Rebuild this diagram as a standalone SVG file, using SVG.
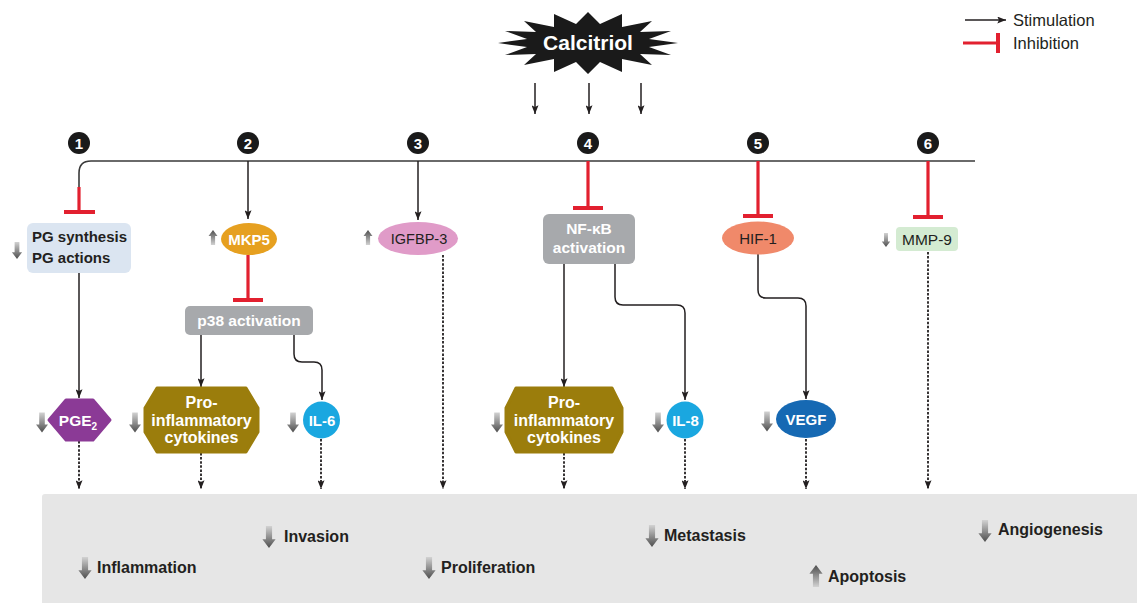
<svg xmlns="http://www.w3.org/2000/svg" width="1137" height="603" viewBox="0 0 1137 603">
  <style>
    text { font-family: "Liberation Sans", Arial, sans-serif; }
    .wb { fill: #ffffff; font-weight: bold; text-anchor: middle; }
    .dk { fill: #231f20; text-anchor: middle; }
    .out { fill: #231f20; font-weight: bold; font-size: 16px; }
    .leg { fill: #231f20; font-size: 16.5px; }
    .num { fill: #ffffff; font-weight: bold; font-size: 15px; text-anchor: middle; }
    .stim { fill: none; stroke: #231f20; stroke-width: 1.5; marker-end: url(#ah); }
    .dot { fill: none; stroke: #231f20; stroke-width: 1.8; stroke-dasharray: 2.5 1.6; marker-end: url(#ah); }
    .inh { fill: none; stroke: #e2202f; stroke-width: 3.2; }
    .bar { fill: none; stroke: #e2202f; stroke-width: 4; }
  </style>
  <defs>
    <marker id="ah" viewBox="0 0 10 8" refX="10" refY="4" markerWidth="9" markerHeight="7" markerUnits="userSpaceOnUse" orient="auto">
      <path d="M0,0 L10,4 L0,8 L2,4 Z" fill="#231f20"/>
    </marker>
    <linearGradient id="gDown" x1="0" y1="0" x2="0" y2="1">
      <stop offset="0" stop-color="#d2d2d2"/>
      <stop offset="1" stop-color="#4d4d4d"/>
    </linearGradient>
    <linearGradient id="gUp" x1="0" y1="0" x2="0" y2="1">
      <stop offset="0" stop-color="#4d4d4d"/>
      <stop offset="1" stop-color="#d2d2d2"/>
    </linearGradient>
    <symbol id="down" viewBox="0 0 12 20">
      <path d="M3.2,0 H8.8 V12 H12 L6,20 L0,12 H3.2 Z" fill="url(#gDown)"/>
    </symbol>
    <symbol id="up" viewBox="0 0 12 20">
      <path d="M3.2,20 H8.8 V8 H12 L6,0 L0,8 H3.2 Z" fill="url(#gUp)"/>
    </symbol>
  </defs>

  <rect width="1137" height="603" fill="#ffffff"/>

  <!-- outcome panel -->
  <g id="outcomes">
    <rect x="42" y="494" width="1100" height="115" rx="3" fill="#e6e6e6"/>
    <use href="#down" x="78" y="557" width="14" height="22"/>
    <text class="out" x="97" y="573">Inflammation</text>
    <use href="#down" x="262" y="526" width="14" height="22"/>
    <text class="out" x="284" y="542">Invasion</text>
    <use href="#down" x="422" y="557" width="14" height="22"/>
    <text class="out" x="441" y="573">Proliferation</text>
    <use href="#down" x="645" y="525" width="14" height="22"/>
    <text class="out" x="664" y="541">Metastasis</text>
    <use href="#up" x="809" y="565" width="14" height="22"/>
    <text class="out" x="828" y="582">Apoptosis</text>
    <use href="#down" x="978" y="520" width="14" height="22"/>
    <text class="out" x="998" y="535">Angiogenesis</text>
  </g>

  <!-- legend -->
  <g id="legend">
    <path d="M965,20 H1006" class="stim"/>
    <text class="leg" x="1013" y="26">Stimulation</text>
    <path d="M963,43 H997" class="inh"/>
    <path d="M998,33 V53" class="bar"/>
    <text class="leg" x="1013" y="49">Inhibition</text>
  </g>

  <!-- connectors -->
  <g id="connectors">
    <!-- calcitriol to pathway bus -->
    <path d="M535,83 V114" class="stim"/>
    <path d="M589,83 V114" class="stim"/>
    <path d="M641,83 V114" class="stim"/>
    <path d="M975,161 H91 Q79,161 79,173 V188" fill="none" stroke="#3a3a3a" stroke-width="1.6"/>

    <!-- 1 -->
    <path d="M79,187 V211" class="inh"/>
    <path d="M64,212 H95" class="bar"/>
    <path d="M79,273 V398" class="stim"/>
    <path d="M79,441 V489" class="dot"/>

    <!-- 2 -->
    <path d="M248,161 V219" class="stim"/>
    <path d="M248,255 V299" class="inh"/>
    <path d="M233,300 H263" class="bar"/>
    <path d="M201,335 V387" class="stim"/>
    <path d="M294,335 V354 Q294,362 302,362 H314 Q322,362 322,370 V400" class="stim"/>
    <path d="M201,453 V489" class="dot"/>
    <path d="M321,439 V489" class="dot"/>

    <!-- 3 -->
    <path d="M418,161 V220" class="stim"/>
    <path d="M443,255 V489" class="dot"/>

    <!-- 4 -->
    <path d="M588,161 V206" class="inh"/>
    <path d="M573,208 H603" class="bar"/>
    <path d="M564,264 V387" class="stim"/>
    <path d="M615,264 V297 Q615,305 623,305 H677 Q685,305 685,313 V400" class="stim"/>
    <path d="M564,453 V489" class="dot"/>
    <path d="M685,439 V489" class="dot"/>

    <!-- 5 -->
    <path d="M758,161 V214" class="inh"/>
    <path d="M743,216 H773" class="bar"/>
    <path d="M758,254 V290 Q758,298 766,298 H798 Q806,298 806,306 V399" class="stim"/>
    <path d="M806,439 V489" class="dot"/>

    <!-- 6 -->
    <path d="M928,161 V215" class="inh"/>
    <path d="M913,217 H943" class="bar"/>
    <path d="M928,252 V489" class="dot"/>
  </g>

  <!-- calcitriol -->
  <g id="calcitriol">
    <polygon fill="#1a1a1a" points="678,43 649,47 671,55 640,54 652,65 622,59 622,72 600,62 588,74 576,62 554,72 554,59 524,65 536,54 505,55 527,47 498,43 527,39 505,31 536,32 524,21 554,27 554,14 576,24 588,12 600,24 622,14 622,27 652,21 640,32 671,31 649,39"/>
    <text class="wb" x="588" y="50" font-size="21">Calcitriol</text>
  </g>

  <!-- pathway numbers -->
  <g id="markers-num">
    <circle cx="79" cy="143" r="11" fill="#1a1a1a"/><text class="num" x="79" y="148.5">1</text>
    <circle cx="248" cy="143" r="11" fill="#1a1a1a"/><text class="num" x="248" y="148.5">2</text>
    <circle cx="418" cy="143" r="11" fill="#1a1a1a"/><text class="num" x="418" y="148.5">3</text>
    <circle cx="588" cy="143" r="11" fill="#1a1a1a"/><text class="num" x="588" y="148.5">4</text>
    <circle cx="758" cy="143" r="11" fill="#1a1a1a"/><text class="num" x="758" y="148.5">5</text>
    <circle cx="928" cy="143" r="11" fill="#1a1a1a"/><text class="num" x="928" y="148.5">6</text>
  </g>

  <!-- pathway 1 -->
  <g id="pg">
    <rect x="27" y="223" width="104" height="50" rx="6" fill="#dbe5f1"/>
    <text x="32" y="242" font-size="15" font-weight="bold" fill="#231f20">PG synthesis</text>
    <text x="32" y="263" font-size="15" font-weight="bold" fill="#231f20">PG actions</text>
    <use href="#down" x="11" y="242" width="12" height="17"/>
  </g>
  <g id="pge2">
    <path d="M66,400 H93 L110,420 L93,440 H66 L49,420 Z" fill="#8b3a96" stroke="#8b3a96" stroke-width="3" stroke-linejoin="round"/>
    <text class="wb" x="78" y="426" font-size="15.5">PGE<tspan font-size="10" dy="4">2</tspan></text>
    <use href="#down" x="36" y="412" width="12" height="21"/>
  </g>

  <!-- pathway 2 -->
  <g id="mkp5">
    <ellipse cx="249" cy="239" rx="28" ry="16" fill="#e6a020"/>
    <text class="wb" x="249" y="245" font-size="15">MKP5</text>
    <use href="#up" x="207" y="230" width="12" height="15"/>
  </g>
  <g id="p38">
    <rect x="185" y="306" width="128" height="29" rx="5" fill="#a7a9ac"/>
    <text class="wb" x="249" y="326" font-size="15.5">p38 activation</text>
  </g>
  <g id="cytokines-a">
    <path d="M157,388 H246 L258,408 V432 L246,452 H157 L145,432 V408 Z" fill="#9b7d0c" stroke="#9b7d0c" stroke-width="3" stroke-linejoin="round"/>
    <text class="wb" x="201.5" y="408" font-size="16">Pro-</text>
    <text class="wb" x="201.5" y="425.5" font-size="16">inflammatory</text>
    <text class="wb" x="201.5" y="443" font-size="16">cytokines</text>
    <use href="#down" x="129" y="412" width="12" height="21"/>
  </g>
  <g id="il6">
    <circle cx="321.5" cy="420" r="18.5" fill="#1aa7e0"/>
    <text class="wb" x="322" y="426" font-size="15">IL-6</text>
    <use href="#down" x="287" y="412" width="12" height="21"/>
  </g>

  <!-- pathway 3 -->
  <g id="igfbp3">
    <ellipse cx="418" cy="238.5" rx="40" ry="16.5" fill="#e09bc8"/>
    <text class="dk" x="419" y="244" font-size="14.5">IGFBP-3</text>
    <use href="#up" x="362" y="230" width="12" height="15"/>
  </g>

  <!-- pathway 4 -->
  <g id="nfkb">
    <rect x="543" y="214" width="92" height="50" rx="6" fill="#a7a9ac"/>
    <text class="wb" x="589" y="234" font-size="15.5">NF-κB</text>
    <text class="wb" x="589" y="253" font-size="15.5">activation</text>
  </g>
  <g id="cytokines-b">
    <path d="M516,388 H612 L622,408 V432 L612,452 H516 L506,432 V408 Z" fill="#9b7d0c" stroke="#9b7d0c" stroke-width="3" stroke-linejoin="round"/>
    <text class="wb" x="564" y="408" font-size="16">Pro-</text>
    <text class="wb" x="564" y="425.5" font-size="16">inflammatory</text>
    <text class="wb" x="564" y="443" font-size="16">cytokines</text>
    <use href="#down" x="491" y="412" width="12" height="21"/>
  </g>
  <g id="il8">
    <circle cx="685" cy="420" r="18.5" fill="#1aa7e0"/>
    <text class="wb" x="685.5" y="426" font-size="15">IL-8</text>
    <use href="#down" x="652" y="412" width="12" height="21"/>
  </g>

  <!-- pathway 5 -->
  <g id="hif1">
    <ellipse cx="758" cy="238" rx="36" ry="16.5" fill="#f0896a"/>
    <text class="dk" x="758" y="244" font-size="15">HIF-1</text>
  </g>
  <g id="vegf">
    <ellipse cx="806" cy="419" rx="30" ry="19" fill="#1669b3"/>
    <text class="wb" x="806" y="425" font-size="15">VEGF</text>
    <use href="#down" x="761" y="411" width="12" height="21"/>
  </g>

  <!-- pathway 6 -->
  <g id="mmp9">
    <rect x="896" y="227" width="62" height="24" rx="4" fill="#d4ebd2"/>
    <text class="dk" x="927" y="245" font-size="15.5">MMP-9</text>
    <use href="#down" x="880" y="233" width="12" height="14"/>
  </g>
</svg>
